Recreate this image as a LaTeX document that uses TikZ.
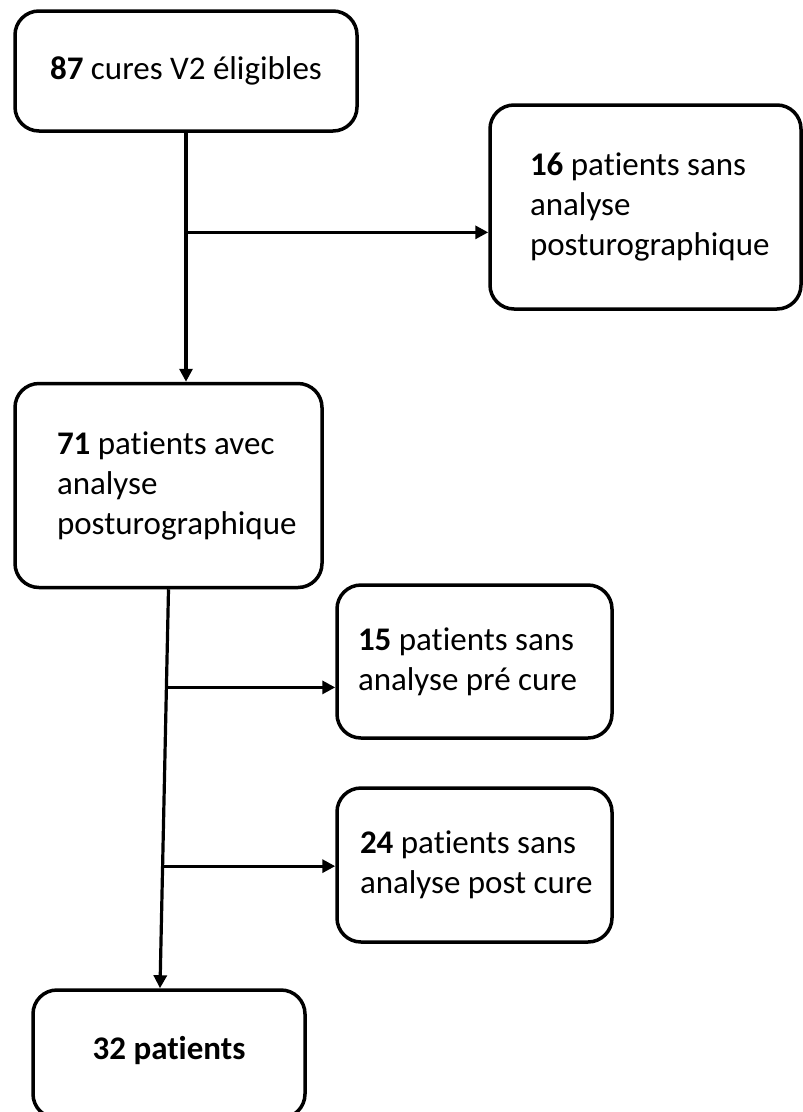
\documentclass[tikz,border=0pt]{standalone}
\usepackage{fontspec}
\setmainfont[Ligatures={NoCommon,NoContextual,NoRare}]{Carlito}
\usetikzlibrary{arrows.meta,calc}
\tikzset{
  box/.style={draw, line width=3.5pt, rounded corners=24pt, inner ysep=0pt,
    font=\fontsize{33}{40}\selectfont},
  arr/.style={line width=3.2pt, -{Triangle[length=13pt,width=13pt]}},
}
\begin{document}
\begin{tikzpicture}[x=1pt,y=1pt]
\useasboundingbox (0,0) rectangle (803,-1112);
\clip (0,0) rectangle (803,-1112);
\node[box, minimum width=342pt, minimum height=120pt, align=center] (b1) at (186,-71) {\textbf{87} cures V2 éligibles};
\node[box, minimum width=311pt, minimum height=204pt, inner xsep=40pt, text width=231pt, align=flush left] (b2) at (645.5,-207) {\mbox{\textbf{16} patients sans}\\analyse\\posturographique};
\node[box, minimum width=307pt, minimum height=204pt, inner xsep=42pt, text width=223pt, align=flush left] (b3) at (168.5,-485.5) {\mbox{\textbf{71} patients avec}\\analyse\\posturographique};
\node[box, minimum width=275pt, minimum height=153pt, inner xsep=21pt, text width=233pt, align=flush left] (b4) at (474.5,-661.5) {\mbox{\textbf{15} patients sans}\\\mbox{analyse pré cure}};
\node[box, minimum width=275pt, minimum height=154pt, inner xsep=23pt, text width=229pt, align=flush left] (b5) at (474.5,-865) {\mbox{\textbf{24} patients sans}\\\mbox{analyse post cure}};
\node[box, minimum width=272pt, minimum height=128pt, align=center] (b6) at (169,-1054) {\raisebox{12pt}{\textbf{32 patients}}};
% connectors
\draw[arr] (b1.south) -- (b1.south |- b3.north);
\coordinate (j1) at ($(b1.south)!0.40!(b1.south |- b3.north)$);
\draw[arr] (j1) -- (j1 -| b2.west);
\coordinate (e6) at ($(b6.north)+(-9,0)$);
\draw[arr] (b3.south) -- (e6);
\coordinate (j2) at ($(b3.south)!0.246!(e6)$);
\coordinate (j3) at ($(b3.south)!0.694!(e6)$);
\draw[arr] (j2) -- (j2 -| b4.west);
\draw[arr] (j3) -- (j3 -| b5.west);
\end{tikzpicture}
\end{document}
